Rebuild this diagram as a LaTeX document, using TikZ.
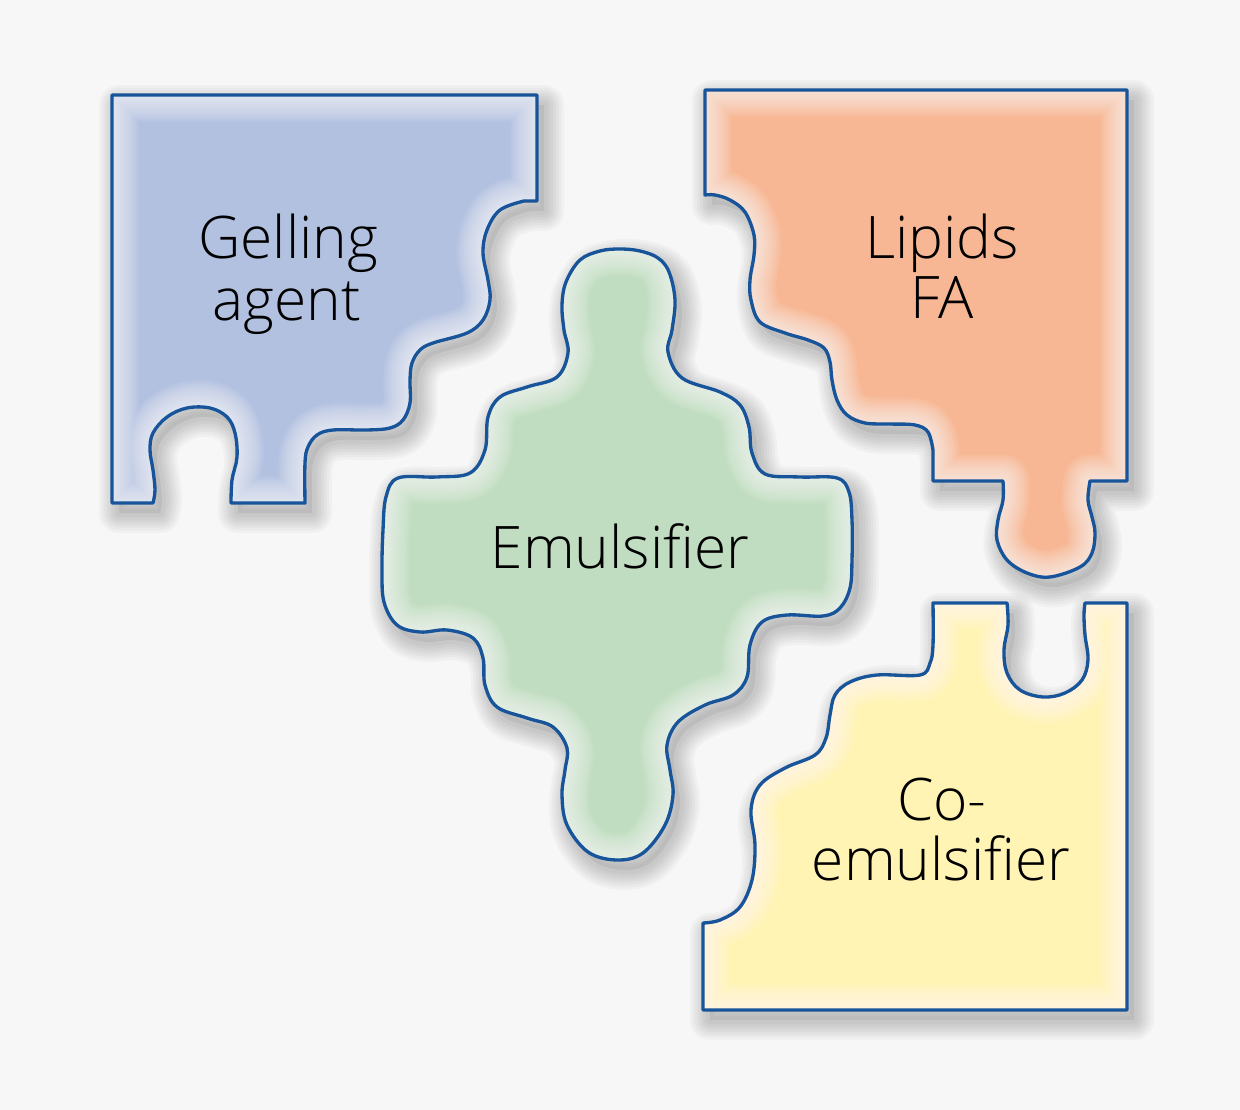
\documentclass[tikz,border=0pt]{standalone}
\usepackage{fontspec}
\setmainfont{Open Sans Light}
\definecolor{bg}{HTML}{F7F7F7}
\definecolor{edge}{HTML}{18549A}
\definecolor{gelfill}{HTML}{B3C1E0}
\definecolor{lipfill}{HTML}{F7B794}
\definecolor{emufill}{HTML}{C1DDC1}
\definecolor{cofill}{HTML}{FFF4B4}
\tikzset{
  piecetext/.style={font=\fontsize{44}{47}\selectfont, text=black, inner sep=0pt, anchor=base},
  outline/.style={draw=edge, line width=2.5pt, line join=round},
}
\def\gelpath{(112,95) -- (537,95) -- (537,201) -- (524,201)
  -- plot[smooth, tension=0.6] coordinates {(524,201) (500,210) (487,230) (483,253) (488,280) (490,300) (483,320) (467,333) (433,343) (420,350) (412,363) (410,380) (410,403) (403,420) (390,428) (367,430) (333,430) (317,435) (308,447) (305,463) (305,503)}
  -- (231,503)
  -- plot[smooth, tension=0.6] coordinates {(231,503) (232,480) (237,457) (235,433) (227,417) (210,408) (187,408) (167,417) (153,433) (150,450) (153,470) (155,490) (153,503)}
  -- (112,503) -- cycle}
\def\lippath{(705,90) -- (1127,90) -- (1127,481) -- (1090,481)
  -- plot[smooth, tension=0.6] coordinates {(1090,481) (1088,500) (1092,517) (1095,533) (1092,553) (1080,567) (1050,577) (1027,573) (1007,560) (997,540) (998,520) (1003,500) (1003,481)}
  -- (933,481) -- (933,450)
  -- plot[smooth, tension=0.6] coordinates {(933,450) (928,432) (915,425) (890,424) (865,423) (847,415) (837,400) (832,380) (830,362) (824,348) (808,340) (785,333) (760,322) (751,300) (750,280) (754,255) (754,235) (745,212) (730,200) (715,195) (705,195)}
  -- cycle}
\def\emupath{plot[smooth cycle, tension=0.6] coordinates {(620,249) (640,251) (658,258) (669,272) (675,300) (672,330) (668,352) (682,378) (720,392) (740,405) (749,427) (752,453) (765,474) (800,477) (837,478) (849,492) (852,520) (852,560) (850,588) (840,608) (823,616) (787,615) (762,622) (750,645) (747,677) (733,695) (705,705) (678,722) (667,745) (670,770) (673,795) (665,825) (643,853) (617,860) (588,852) (567,825) (562,795) (565,770) (567,748) (553,727) (527,718) (497,707) (485,685) (483,658) (473,638) (447,630) (420,632) (397,625) (384,602) (382,570) (383,530) (386,497) (398,478) (437,477) (470,473) (485,450) (488,417) (500,397) (527,387) (557,377) (568,353) (564,330) (562,305) (566,282) (580,260) (600,251)}}
\def\copath{(933,603) -- (1007,603)
  -- plot[smooth, tension=0.6] coordinates {(1007,603) (1008,625) (1004,650) (1007,673) (1020,690) (1043,697) (1065,693) (1082,680) (1088,660) (1085,635) (1084,615) (1085,603)}
  -- (1127,603) -- (1127,1010) -- (703,1010) -- (703,923)
  -- plot[smooth, tension=0.6] coordinates {(703,923) (720,920) (740,907) (752,880) (755,845) (751,810) (760,785) (785,768) (815,755) (826,738) (830,715) (835,695) (850,682) (877,675) (920,675) (930,663) (933,645) (933,603)}
  -- cycle}
\newcommand\pieceshadow[1]{%
  \foreach \w in {30,26,22,18,14,10,6}{\draw[shift={(7,10)}, black, opacity=0.028, line width=\w pt, line join=round] #1;}
  \fill[shift={(7,10)}, black, opacity=0.06] #1;
}
\newcommand\piece[2]{%
  \begin{scope}
    \clip #1;
    \fill[#2] #1;
    \foreach \w in {40,37,34,31,28,25,22,19,16,13,10,7,4}{\draw[white, opacity=0.07, line width=\w pt, line join=round] #1;}
  \end{scope}
  \draw[outline] #1;
}
\begin{document}
\begin{tikzpicture}[x=0.75pt, y=-0.75pt]
  \useasboundingbox (0,0) rectangle (1240,1110);
  \fill[bg] (0,0) rectangle (1240,1110);
  \pieceshadow{\gelpath}
  \pieceshadow{\lippath}
  \pieceshadow{\emupath}
  \pieceshadow{\copath}
  \piece{\gelpath}{gelfill}
  \piece{\lippath}{lipfill}
  \piece{\emupath}{emufill}
  \piece{\copath}{cofill}
  \node[piecetext] (gel1) at (288,258) {Gelling};
  \node[piecetext] (gel2) at (287,320) {agent};
  \node[piecetext] (lip1) at (942,258) {Lipids};
  \node[piecetext] (lip2) at (942,318) {FA};
  \node[piecetext] (emu) at (620,568) {Emulsifier};
  \node[piecetext] (co1) at (942,820) {Co-};
  \node[piecetext] (co2) at (941,880) {emulsifier};
\end{tikzpicture}
\end{document}
